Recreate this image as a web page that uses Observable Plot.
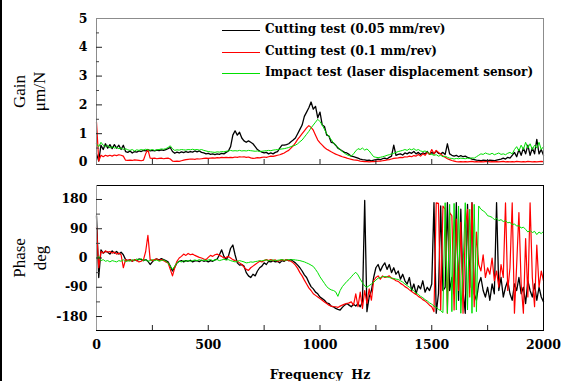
<!DOCTYPE html>
<html><head><meta charset="utf-8">
<script src="https://cdn.jsdelivr.net/npm/d3@7"></script>
<script src="https://cdn.jsdelivr.net/npm/@observablehq/plot@0.6"></script>
<style>
html,body{margin:0;padding:0;background:#fff;}
#chart{position:relative;width:567px;height:381px;overflow:hidden;background:#fff;}
#chart svg{position:absolute;left:0;}
#edge{position:absolute;left:0;top:0;width:2px;height:381px;background:#000;}
.legline{position:absolute;left:222px;width:38px;height:0;}
.legtext{position:absolute;left:265px;height:16px;line-height:16px;font:bold 12px "DejaVu Serif";color:#000;white-space:nowrap;}
</style>
</head><body><div id="chart"><div id="edge"></div></div>
<script>
// ---- data ----
const seriesNames = ["Cutting test (0.05 mm/rev)", "Cutting test (0.1 mm/rev)", "Impact test (laser displacement sensor)"];
const seriesColors = ["#000000", "#ff0000", "#00e000"];
const seriesWidths = [1.3, 1.2, 1];
const freqTicks = [250,500,750,1000,1250,1500,1750];
const freqLabels = [0,500,1000,1500,2000];
const gainTicks = [0,1,2,3,4,5];
const gainMinor = [0.5,1.5,2.5,3.5,4.5];
const phaseTicks = [180,90,0,-90,-180];
const phaseMinor = [135,45,-45,-135];

const hz = [
0,10,20,30,40,50,60,70,80,90,
100,110,120,130,140,150,160,170,180,190,
200,210,220,230,240,250,260,270,280,290,
300,310,320,330,340,350,360,370,380,390,
400,410,420,430,440,450,460,470,480,490,
500,510,520,530,540,550,560,570,580,590,
600,610,620,630,640,650,660,670,680,690,
700,710,720,730,740,750,760,770,780,790,
800,810,820,830,840,850,860,870,880,890,
900,910,920,930,940,950,960,970,980,990,
1000,1010,1020,1030,1040,1050,1060,1070,1080,1090,
1100,1110,1120,1130,1140,1150,1160,1170,1180,1190,
1200,1210,1220,1230,1240,1250,1260,1270,1280,1290,
1300,1310,1320,1330,1340,1350,1360,1370,1380,1390,
1400,1410,1420,1430,1440,1450,1460,1470,1480,1490,
1500,1510,1520,1530,1540,1550,1560,1570,1580,1590,
1600,1610,1620,1630,1640,1650,1660,1670,1680,1690,
1700,1710,1720,1730,1740,1750,1760,1770,1780,1790,
1800,1810,1820,1830,1840,1850,1860,1870,1880,1890,
1900,1910,1920,1930,1940,1950,1960,1970,1980,1990,
2000];

const gainBlack = [
0.3,0.05,0.6,0.45,0.65,0.5,0.62,0.48,0.62,0.5,
0.6,0.45,0.6,0.38,0.35,0.4,0.33,0.38,0.36,0.4,
0.38,0.42,0.4,0.45,0.4,0.42,0.4,0.43,0.41,0.44,
0.42,0.45,0.48,0.52,0.38,0.32,0.36,0.33,0.37,0.34,
0.38,0.35,0.38,0.36,0.4,0.37,0.4,0.35,0.33,0.3,
0.32,0.28,0.3,0.27,0.3,0.28,0.32,0.3,0.35,0.4,
0.55,0.95,1.1,0.95,1.05,0.85,0.75,0.7,0.75,0.7,
0.65,0.55,0.45,0.4,0.36,0.33,0.35,0.3,0.33,0.3,
0.35,0.38,0.5,0.6,0.6,0.62,0.65,0.72,0.78,0.85,
1.0,1.15,1.3,1.6,1.75,1.9,2.1,1.85,1.95,1.55,
1.75,1.3,1.25,0.95,0.92,0.7,0.68,0.6,0.5,0.45,
0.4,0.35,0.33,0.28,0.22,0.2,0.18,0.15,0.12,0.1,
0.09,0.07,0.08,0.06,0.08,0.1,0.12,0.1,0.13,0.15,
0.12,0.18,0.22,0.6,0.25,0.28,0.3,0.26,0.33,0.3,
0.35,0.32,0.38,0.3,0.35,0.28,0.33,0.3,0.38,0.28,
0.35,0.3,0.4,0.32,0.3,0.35,0.28,0.65,0.3,0.25,
0.22,0.25,0.2,0.24,0.2,0.22,0.18,0.15,0.12,0.1,
0.08,0.07,0.06,0.08,0.07,0.06,0.08,0.07,0.06,0.08,
0.1,0.12,0.15,0.12,0.18,0.15,0.25,0.35,0.2,0.45,
0.25,0.5,0.3,0.6,0.25,0.5,0.3,0.8,0.3,0.45,
0.25];

const gainRed = [
1.4,0.05,0.25,0.2,0.25,0.22,0.25,0.22,0.26,0.24,
0.27,0.25,0.22,0.08,0.07,0.08,0.07,0.09,0.08,0.07,
0.06,0.08,0.3,0.45,0.15,0.14,0.15,0.13,0.14,0.15,
0.13,0.14,0.15,0.12,0.05,0.04,0.05,0.04,0.06,0.08,
0.1,0.11,0.12,0.12,0.11,0.13,0.12,0.13,0.14,0.15,
0.14,0.15,0.16,0.15,0.17,0.16,0.18,0.17,0.18,0.17,
0.18,0.17,0.19,0.18,0.2,0.19,0.2,0.18,0.19,0.16,
0.14,0.15,0.17,0.16,0.18,0.19,0.18,0.2,0.22,0.21,
0.23,0.25,0.27,0.3,0.33,0.38,0.42,0.5,0.58,0.68,
0.8,0.9,1.0,1.1,1.2,1.28,1.22,1.12,0.95,0.78,
0.68,0.6,0.52,0.46,0.42,0.37,0.33,0.29,0.26,0.23,
0.2,0.18,0.15,0.13,0.11,0.09,0.08,0.07,0.05,0.04,
0.03,0.03,0.02,0.03,0.03,0.04,0.05,0.05,0.06,0.07,
0.09,0.1,0.12,0.14,0.15,0.16,0.18,0.17,0.2,0.19,
0.22,0.2,0.24,0.22,0.28,0.22,0.3,0.25,0.35,0.28,
0.45,0.3,0.42,0.35,0.3,0.22,0.18,0.13,0.1,0.07,
0.05,0.03,0.02,0.03,0.02,0.03,0.02,0.03,0.04,0.02,
0.03,0.02,0.03,0.02,0.03,0.04,0.02,0.03,0.02,0.03,
0.02,0.03,0.04,0.02,0.03,0.02,0.03,0.02,0.04,0.03,
0.02,0.03,0.02,0.04,0.03,0.02,0.03,0.02,0.03,0.04,
0.03];

const gainGreen = [
0.65,0.55,0.7,0.6,0.55,0.6,0.5,0.55,0.5,0.52,
0.48,0.5,0.45,0.48,0.44,0.42,0.45,0.4,0.44,0.42,
0.45,0.43,0.46,0.44,0.43,0.45,0.42,0.44,0.45,0.47,
0.46,0.48,0.52,0.58,0.48,0.42,0.44,0.43,0.45,0.44,
0.43,0.45,0.44,0.46,0.44,0.45,0.43,0.45,0.42,0.4,
0.38,0.37,0.36,0.35,0.37,0.36,0.38,0.37,0.39,0.4,
0.42,0.4,0.41,0.4,0.42,0.4,0.41,0.4,0.42,0.41,
0.4,0.39,0.4,0.38,0.39,0.4,0.41,0.42,0.41,0.43,
0.44,0.45,0.46,0.47,0.48,0.5,0.52,0.55,0.58,0.6,
0.65,0.72,0.78,0.88,0.98,1.08,1.2,1.3,1.4,1.5,
1.42,1.3,1.15,1.0,0.9,0.8,0.68,0.6,0.52,0.45,
0.38,0.32,0.27,0.24,0.22,0.3,0.4,0.48,0.45,0.5,
0.43,0.47,0.4,0.3,0.2,0.18,0.17,0.18,0.2,0.22,
0.25,0.27,0.3,0.32,0.35,0.38,0.4,0.42,0.45,0.42,
0.47,0.44,0.48,0.42,0.45,0.4,0.38,0.4,0.36,0.3,
0.28,0.25,0.27,0.22,0.25,0.2,0.22,0.18,0.15,0.14,
0.12,0.14,0.13,0.15,0.14,0.13,0.15,0.14,0.16,0.15,
0.2,0.25,0.3,0.28,0.33,0.3,0.28,0.32,0.27,0.3,
0.33,0.28,0.3,0.27,0.32,0.35,0.3,0.45,0.55,0.4,
0.6,0.45,0.7,0.5,0.65,0.45,0.6,0.5,0.7,0.45,
0.55];

const phaseBlack = [
130,-60,25,15,20,18,12,22,15,20,
12,18,10,-5,-8,-5,-10,-6,-8,-3,
-5,-8,-5,-10,-20,-12,-5,-3,-6,-2,
-5,-8,-12,-25,-40,-28,-15,-10,-8,-12,
-8,-10,-7,-12,-9,-8,-11,-7,-10,-8,
-12,-8,-10,-6,-3,10,25,5,-5,5,
30,40,10,-15,-22,-20,-25,-45,-55,-60,
-50,-55,-40,-30,-25,-15,-20,-10,-12,-8,
-12,-10,-15,-8,-10,-5,-8,-5,-10,-15,
-22,-30,-40,-52,-60,-75,-88,-95,-105,-110,
-120,-125,-130,-138,-140,-148,-150,-155,-158,-160,
-152,-145,-140,-145,-150,-142,-148,-140,-150,-135,
177,-165,-120,-100,-60,-30,-20,-40,-25,-15,
-35,-20,-45,-30,-50,-40,-65,-50,-70,-80,
-60,-100,-80,-110,-85,-95,-70,-105,-90,-100,
-80,170,-170,-110,160,-100,-90,170,-100,-60,
-110,170,-130,150,-100,-170,165,-90,170,-110,
-130,-80,-60,-100,-120,-90,-130,-80,-110,170,
-100,-60,-120,-90,-70,-110,-130,-80,-100,-60,
-110,-90,-140,-70,-100,-120,-80,-130,-90,-120,
-135];

const phaseRed = [
95,-30,20,15,22,18,20,15,18,12,
15,10,-30,-5,-8,-5,-10,-5,-8,-12,
-10,-6,20,70,-5,-8,-5,-3,-8,-5,
-8,-12,-15,-35,-55,-30,-10,0,5,12,
8,14,10,12,8,5,2,0,-3,-5,
2,8,5,10,12,8,5,0,2,5,
0,-5,-8,-10,-15,-20,-28,-35,-38,-30,
-25,-20,-15,-10,-12,-8,-5,-8,-5,-8,
-6,-10,-8,-5,-8,-5,-8,-10,-15,-22,
-32,-45,-55,-68,-80,-92,-100,-110,-115,-120,
-125,-130,-135,-140,-145,-148,-150,-150,-152,-148,
-145,-142,-140,-138,-135,-145,-110,-150,-105,-155,
-100,-140,-95,-130,-70,-60,-55,-65,-55,-60,
-58,-55,-62,-65,-70,-72,-78,-82,-88,-92,
-98,-103,-108,-112,-118,-122,-128,-132,-138,-145,
-150,-165,170,168,-160,160,150,-170,140,130,
-160,120,-100,110,-170,90,150,-120,170,-150,
80,-20,-40,10,-60,-30,-50,0,-70,-40,
-90,-20,-60,170,-100,-30,170,-170,-20,140,
-80,-170,60,-120,170,-60,-150,40,-90,-40,
-70];

const phaseGreen = [
-5,5,-8,-5,-10,-8,-12,-8,-10,-12,
-8,-10,-5,-12,-8,-10,-5,-8,-3,-6,
-2,-8,-5,-10,-8,-5,-8,-6,-10,-8,
-6,-10,-15,-25,-35,-25,-15,-10,-12,-8,
-10,-8,-10,-8,-6,-8,-5,-8,-6,-8,
-6,-5,-8,-6,-5,-8,-6,-4,-6,-5,
-8,-10,-12,-10,-8,-10,-12,-15,-14,-12,
-13,-11,-10,-8,-9,-7,-6,-8,-7,-6,
-8,-7,-6,-5,-7,-6,-5,-6,-5,-6,
-7,-8,-10,-12,-15,-18,-22,-26,-35,-45,
-58,-68,-78,-88,-94,-98,-100,-104,-118,-100,
-88,-80,-72,-66,-58,-50,-44,-52,-65,-76,
-86,-90,-85,-80,-75,-68,-62,-60,-58,-57,
-58,-60,-62,-63,-65,-66,-70,-74,-80,-85,
-90,-95,-102,-108,-112,-118,-122,-128,-132,-138,
-142,-148,-152,-158,-162,-168,170,-170,165,-165,
168,-160,160,-170,-30,170,-160,150,-170,165,
-165,160,150,145,140,130,128,125,118,122,
115,118,112,115,108,110,102,105,98,100,
92,95,88,80,85,78,82,72,80,75,
82];

// ---- drawing ----
const W = 567, ML = 96, MR = 24;
const chart = document.getElementById("chart");
const baseStyle = {fontFamily: "'DejaVu Serif', serif", fontWeight: "bold", fontSize: "12.5px", color: "#000", background: "transparent", overflow: "visible"};
const titleFont = {fontFamily: "'Liberation Serif', serif", fontSize: 17, fontWeight: "normal", fill: "#000", rotate: -90, lineAnchor: "middle", textAnchor: "middle"};

function seriesLines(arrs) {
  return arrs.map((a, k) => Plot.line(a, {x: (d, i) => hz[i], y: d => d, stroke: seriesColors[k], strokeWidth: seriesWidths[k]}));
}

const gainPlot = Plot.plot({
  width: W, height: 175, marginTop: 18, marginBottom: 11, marginLeft: ML, marginRight: MR,
  x: {domain: [0, 2000], axis: null},
  y: {domain: [-0.07, 5], ticks: gainTicks, tickSize: 0, tickPadding: 9, tickFormat: d => String(d), label: null},
  style: baseStyle,
  marks: [
    ...seriesLines([gainBlack, gainRed, gainGreen]),
    Plot.frame({stroke: "#8c8c8c"}),
    Plot.ruleY([-0.07], {stroke: "#444"}),
    Plot.tickY(gainMinor, {y: d => d, insetRight: 444, stroke: "#444"}),
    Plot.tickY(gainTicks.slice(1, 5), {y: d => d, insetRight: 441, stroke: "#222"}),
    Plot.tickX(freqTicks, {x: d => d, insetTop: 141, stroke: "#222"}),
    Plot.text(["Gain"], {frameAnchor: "left", dx: -77, ...titleFont}),
    Plot.text(["\u03bcm/N"], {frameAnchor: "left", dx: -57, ...titleFont})
  ]
});
gainPlot.style.top = "0px";
chart.appendChild(gainPlot);

const phasePlot = Plot.plot({
  width: W, height: 206, marginTop: 10, marginBottom: 51, marginLeft: ML, marginRight: MR,
  x: {domain: [0, 2000], ticks: freqLabels, tickSize: 0, tickPadding: 10, tickFormat: d => String(d), label: null},
  y: {domain: [-223, 223], ticks: phaseTicks, tickSize: 0, tickPadding: 9, tickFormat: d => String(d), label: null},
  style: baseStyle,
  marks: [
    ...seriesLines([phaseBlack, phaseRed, phaseGreen]),
    Plot.frame({stroke: "#000"}),
    Plot.ruleX([0], {stroke: "#9a9a9a"}),
    Plot.tickY(phaseMinor, {y: d => d, insetRight: 443, stroke: "#444"}),
    Plot.tickY(phaseTicks, {y: d => d, insetRight: 441, stroke: "#222"}),
    Plot.tickX(freqTicks, {x: d => d, insetTop: 140, stroke: "#222"}),
    Plot.text(["Phase"], {frameAnchor: "left", dx: -77, ...titleFont}),
    Plot.text(["deg"], {frameAnchor: "left", dx: -56, ...titleFont}),
    Plot.text(["Frequency\u00a0\u00a0Hz"], {frameAnchor: "bottom", dy: 44, fontFamily: "'DejaVu Serif', serif", fontWeight: "bold", fontSize: 12.5, fill: "#000", lineAnchor: "middle"})
  ]
});
phasePlot.style.top = "175px";
chart.appendChild(phasePlot);

// legend inside the gain panel
const legTops = [30, 52, 73];
seriesNames.forEach((name, k) => {
  const ln = document.createElement("div");
  ln.className = "legline";
  ln.style.top = legTops[k] + "px";
  ln.style.borderTop = "1px solid " + seriesColors[k];
  chart.appendChild(ln);
  const tx = document.createElement("div");
  tx.className = "legtext";
  tx.style.top = (legTops[k] - 8) + "px";
  tx.textContent = name;
  chart.appendChild(tx);
});
</script></body></html>
